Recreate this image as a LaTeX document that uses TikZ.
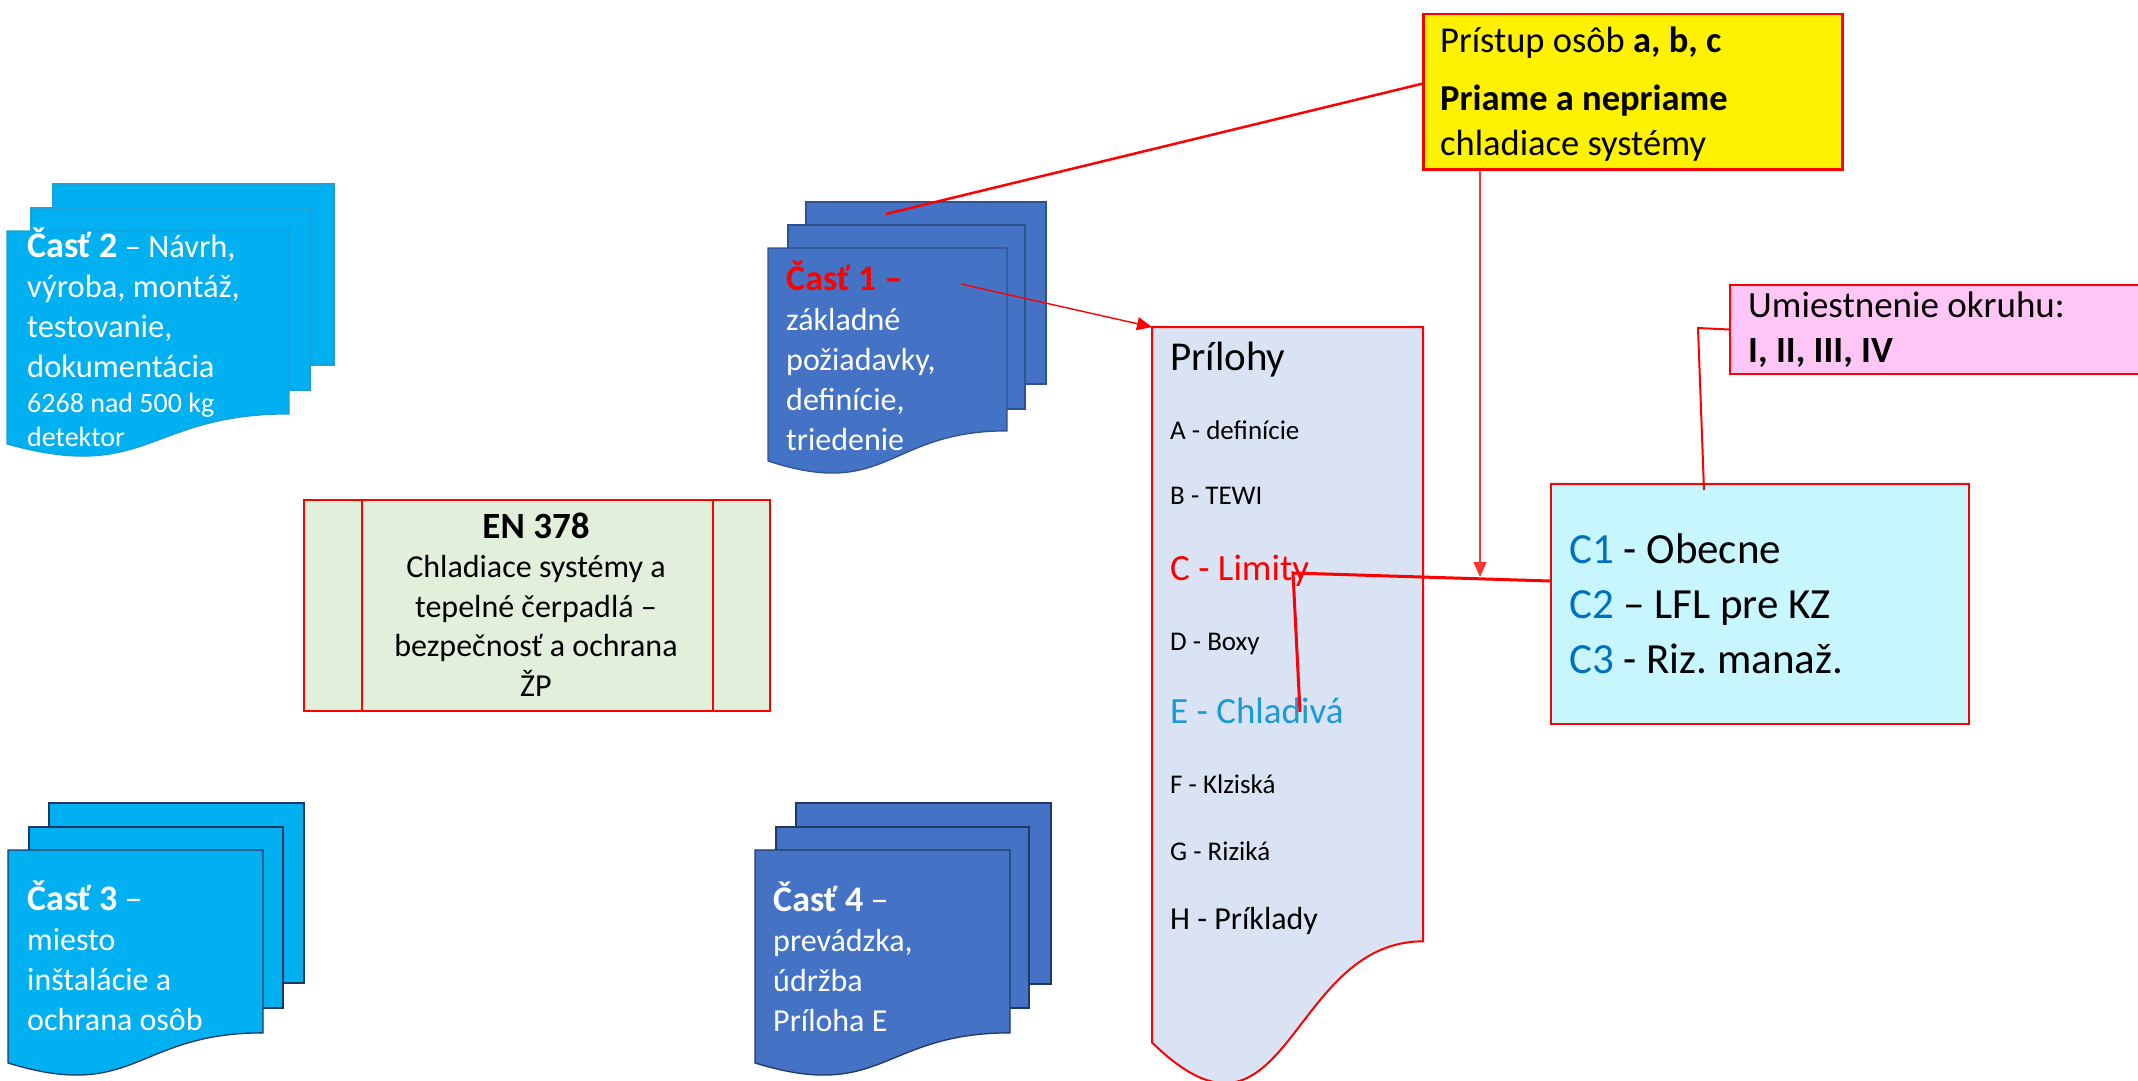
\documentclass[tikz,border=0pt]{standalone}
\usepackage{fontspec}
\setmainfont{Carlito}
\usepackage{tikz}
\usetikzlibrary{arrows.meta}
\usepackage{xcolor}
\definecolor{sheetcyan}{HTML}{00B0F0}
\definecolor{sheetblue}{HTML}{4472C4}
\definecolor{rimcyan}{HTML}{1C9ED6}
\definecolor{rimblue}{HTML}{2F528F}
\definecolor{rimnavy}{HTML}{1F3864}
\definecolor{annexfill}{HTML}{DAE3F3}
\definecolor{normfill}{HTML}{E2EFDA}
\definecolor{boxcyan}{HTML}{C7F6FF}
\definecolor{boxpink}{HTML}{FFC6F5}
\definecolor{ctext}{HTML}{0070C0}
\definecolor{etext}{HTML}{1C9AD6}
\frenchspacing

\newcommand{\topstrut}{\rule{0pt}{1em}}
\newcommand{\fsz}[2]{\fontsize{#1}{#2}\selectfont}
\newcommand{\parthead}[1]{{\fsz{36}{40}\textbf{#1}}}
% front sheet with wavy bottom: style, x0, y0, x1, height
\newcommand{\docsheet}[5]{%
  \draw[#1] (#2,#3) -- (#4,#3) -- (#4,{#3+0.802*#5})
    .. controls ({(#2+#4)/2},{#3+0.802*#5}) and ({(#2+#4)/2},{#3+1.107*#5}) .. (#2,{#3+0.934*#5}) -- cycle;}

\begin{document}
\begin{tikzpicture}[x=1pt,y=-1pt,
    sheetA/.style={fill=sheetcyan,draw=rimcyan,line width=1.3pt},
    sheetB/.style={fill=sheetblue,draw=rimblue,line width=1.3pt},
    sheetC/.style={fill=sheetcyan,draw=rimnavy,line width=1.3pt},
    sheetD/.style={fill=sheetblue,draw=rimnavy,line width=1.3pt},
    redline/.style={red,line width=2.5pt},
    thinarrow/.style={red,line width=1.4pt,-{Triangle[length=15pt,width=13pt]}},
    redbox/.style={draw=red,line width=2pt,inner sep=0pt,anchor=north west},
    txt/.style={anchor=north west,inner sep=0pt,align=left,text=white},
    lbl/.style={anchor=base west,inner sep=0pt}]
  \useasboundingbox (0,0) rectangle (2138,1081);

  % Cast 2
  \draw[sheetA] (53,184) rectangle (334,365);
  \draw[sheetA] (31,208) rectangle (310,390);
  \docsheet{sheetA}{7}{231}{289}{228}
  \node[txt,font=\fsz{32.5}{40}] (part2) at (27,225) {\topstrut\parthead{Časť 2} – Návrh,\\ výroba, montáž,\\ testovanie,\\ dokumentácia\\[-5pt] {\fsz{28}{34}6268 nad 500 kg}\\[-6pt] {\fsz{28}{34}detektor}};

  % Cast 1
  \draw[sheetB] (806,202) rectangle (1046,384);
  \draw[sheetB] (788,225) rectangle (1025,409);
  \docsheet{sheetB}{768}{248}{1007}{228}
  \node[txt,font=\fsz{32}{40}] (part1) at (786,258) {\topstrut\textcolor{red}{\parthead{Časť 1 –}}\\ základné\\ požiadavky,\\ definície,\\ triedenie};

  % Cast 3
  \draw[sheetC] (49,803) rectangle (304,983);
  \draw[sheetC] (29,827) rectangle (283,1008);
  \docsheet{sheetC}{8}{850}{263}{228}
  \node[txt,font=\fsz{32}{40}] (part3) at (27,878) {\topstrut\parthead{Časť 3} {\fsz{36}{40}–}\\ miesto\\ inštalácie a\\ ochrana osôb};

  % Cast 4
  \draw[sheetD] (796,803) rectangle (1051,984);
  \draw[sheetD] (776,827) rectangle (1029,1008);
  \docsheet{sheetD}{755}{850}{1010}{228}
  \node[txt,font=\fsz{32}{40}] (part4) at (773,879) {\topstrut\parthead{Časť 4} {\fsz{36}{40}–}\\ prevádzka,\\ údržba\\ Príloha E};

  % EN 378
  \node[redbox,fill=normfill,minimum width=466,minimum height=211] (norm) at (303,499) {};
  \draw[red,line width=2pt] ([xshift=59pt]norm.north west) -- ([xshift=59pt]norm.south west);
  \draw[red,line width=2pt] ([xshift=-58pt]norm.north east) -- ([xshift=-58pt]norm.south east);
  \node[anchor=north,inner sep=0pt,align=center,font=\fsz{32}{39.5}] (normtxt) at (536,506) {\topstrut{\fsz{37}{40}\textbf{EN 378}}\\ Chladiace systémy a\\ tepelné čerpadlá –\\ bezpečnosť a ochrana\\ ŽP};

  % Prilohy
  \docsheet{fill=annexfill,draw=red,line width=2pt}{1152}{327}{1423}{766}
  \node[lbl,font=\fsz{41}{49}] (annex) at (1170,370) {Prílohy};
  \node[lbl,font=\fsz{27}{32}] (annA) at (1170,439) {A - definície};
  \node[lbl,font=\fsz{27}{32}] (annB) at (1170,504) {B - TEWI};
  \node[lbl,font=\fsz{37}{44},text=red] (annC) at (1170,580) {C - Limity};
  \node[lbl,font=\fsz{27}{32}] (annD) at (1170,650) {D - Boxy};
  \node[lbl,font=\fsz{37}{44},text=etext] (annE) at (1170,723) {E - Chladivá};
  \node[lbl,font=\fsz{27}{32}] (annF) at (1170,793) {F - Klziská};
  \node[lbl,font=\fsz{27}{32}] (annG) at (1170,860) {G - Riziká};
  \node[lbl,font=\fsz{32}{39}] (annH) at (1170,929) {H - Príklady};

  % Pristup osob
  \node[redbox,line width=2.5pt,fill=yellow,minimum width=419,minimum height=155] (access) at (1422,13) {};
  \node[anchor=north west,inner sep=0pt,align=left,font=\fsz{36.5}{45}] (accesstxt) at (1440,16) {\topstrut Prístup osôb \textbf{a, b, c}\\[13pt] \textbf{Priame a nepriame}\\ chladiace systémy};

  % Umiestnenie okruhu
  \node[redbox,fill=boxpink,minimum width=450,minimum height=89] (circuit) at (1729,284) {};
  \node[anchor=north west,inner sep=0pt,align=left,font=\fsz{37}{45}] (circuittxt) at (1748,280) {\topstrut Umiestnenie okruhu:\\ \textbf{I, II, III, IV}};

  % C1 - C3
  \node[redbox,fill=boxcyan,minimum width=418,minimum height=240] (cbox) at (1550,483) {};
  \node[anchor=north west,inner sep=0pt,align=left,font=\fsz{43}{55}] (cboxtxt) at (1569,520) {\topstrut\textcolor{ctext}{C1} - Obecne\\ \textcolor{ctext}{C2} – LFL pre KZ\\ \textcolor{ctext}{C3} - Riz. manaž.};

  % spojnice
  \coordinate (p1from) at (961,284);
  \coordinate (annexcorner) at (1152,327);
  \coordinate (p1back) at (886,214);
  \coordinate (limE) at (1300,712);
  \coordinate (limC) at (1293,573);
  \coordinate (limhit) at (1480,577);
  \coordinate (bend) at (1698,328);
  \draw[thinarrow] (p1from) -- (annexcorner);
  \draw[redline] ([yshift=8pt]access.west) -- (p1back);
  \draw[redline,line width=3pt] (limE) -- (limC) -- ([yshift=23pt]cbox.west);
  \draw[thinarrow,red!80] ([xshift=58pt]access.south west) -- (limhit);
  \draw[red,line width=2pt] ([xshift=-56pt,yshift=-7pt]cbox.north) -- (bend) -- (circuit.west);
\end{tikzpicture}
\end{document}
